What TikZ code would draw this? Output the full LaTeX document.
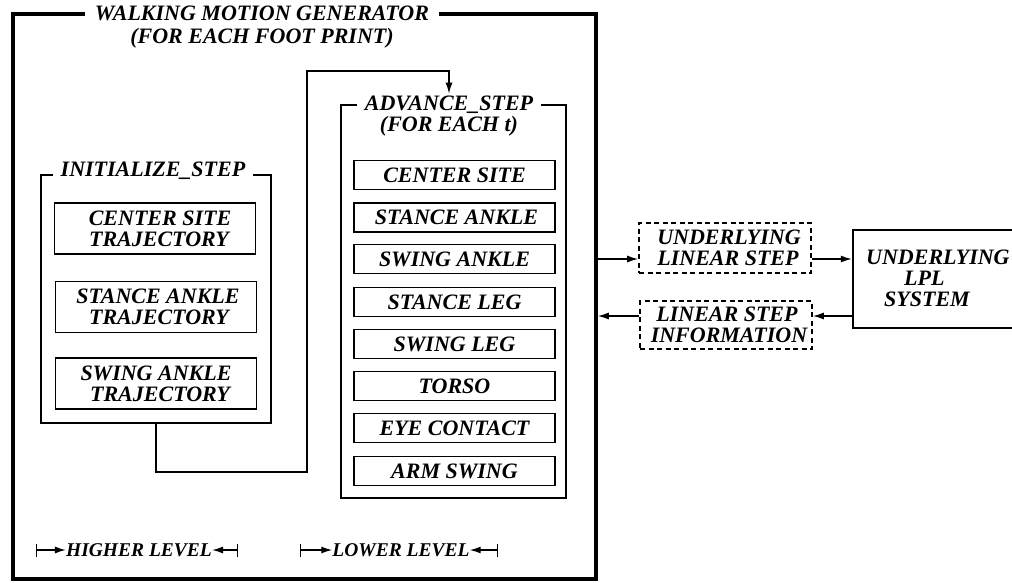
\documentclass[tikz,border=0pt]{standalone}
\usepackage{fontspec}
\setmainfont{Liberation Serif}
\usetikzlibrary{arrows.meta,calc}
\tikzset{
  txt/.style={font=\fontsize{22}{21}\selectfont\bfseries\itshape, align=center, inner sep=0pt},
  lvl/.style={font=\fontsize{19.5}{21}\selectfont\bfseries\itshape, inner sep=0pt},
  outerbox/.style={draw, line width=3.5pt, inner sep=0pt},
  groupbox/.style={draw, line width=2.4pt, inner sep=0pt},
  itembox/.style={draw, line width=1.6pt, inner sep=0pt, txt, minimum width=201pt},
  dashbox/.style={draw, dash pattern=on 5pt off 3.5pt, line width=1.6pt, inner sep=0pt, txt, minimum width=172pt},
  ttl/.style={txt, fill=white, inner xsep=8pt, inner ysep=2pt},
  conn/.style={line width=1.4pt},
  tip/.style={-{Latex[length=11pt,width=7pt]}},
  dim/.style={line width=1.4pt, {Bar[width=13pt]}-{Latex[length=11pt,width=7pt]}}
}
\begin{document}
\begin{tikzpicture}[x=1pt,y=-1pt]
\useasboundingbox (0,0) rectangle (1012,582);
\clip (0,0) rectangle (1012,582);
% outer box
\node[outerbox, minimum width=583pt, minimum height=565pt] (outer) at (304.5,296.5) {};
\node[ttl, inner xsep=10pt, font=\fontsize{22}{23}\selectfont\bfseries\itshape] (outtitle) at (262,27) {WALKING MOTION GENERATOR\\(FOR EACH FOOT PRINT)};
% initialize step
\node[groupbox, line width=2.2pt, minimum width=230pt, minimum height=248pt] (init) at (156,299) {};
\node[ttl] (inittitle) at (153,171) {INITIALIZE\_STEP};
\node[itembox, minimum height=51pt] (i1) at (155,228.5) {\hspace*{10pt}CENTER SITE\\\hspace*{8pt}TRAJECTORY};
\node[itembox, minimum height=51pt] (i2) at (156,307) {\hspace*{4pt}STANCE ANKLE\\\hspace*{6pt}TRAJECTORY};
\node[itembox, minimum height=51pt] (i3) at (156,383.5) {SWING ANKLE\\\hspace*{8pt}TRAJECTORY};
% advance step
\node[groupbox, minimum width=225pt, minimum height=393pt] (adv) at (453.5,301.5) {};
\node[ttl] (advtitle) at (449,116) {ADVANCE\_STEP\\(FOR EACH \textit{t})};
\node[itembox, minimum height=29pt] (a1) at (454.5,175) {CENTER SITE};
\node[itembox, minimum height=29pt] (a2) at (454.5,217.5) {\hspace*{4pt}STANCE ANKLE};
\node[itembox, minimum height=29pt] (a3) at (454.5,259) {SWING ANKLE};
\node[itembox, minimum height=29pt] (a4) at (454.5,302) {STANCE LEG};
\node[itembox, minimum height=29pt] (a5) at (454.5,344) {SWING LEG};
\node[itembox, minimum height=29pt] (a6) at (454.5,386) {TORSO};
\node[itembox, minimum height=29pt] (a7) at (454.5,428) {EYE CONTACT};
\node[itembox, minimum height=29pt] (a8) at (454.5,471) {ARM SWING};
% connector from initialize to advance
\draw[conn, tip] (init.south) -- ++(0,48) -| (307,71) -| (advtitle.north);
% right side
\node[dashbox, minimum height=50pt] (d1) at (725,248) {\hspace*{8pt}UNDERLYING\\\hspace*{6pt}LINEAR STEP};
\node[dashbox, minimum height=48pt] (d2) at (726,325) {\hspace*{2pt}LINEAR STEP\\\hspace*{6pt}INFORMATION};
\node[groupbox, minimum width=162pt, minimum height=98pt] (lpl) at (934,279) {};
\node[txt, align=left, anchor=north west] (lpltext) at (866,250) {UNDERLYING\\\hspace*{38pt}LPL\\\hspace*{18pt}SYSTEM};
\draw[conn, tip] (outer.east |- 0,259) -- (d1.west |- 0,259);
\draw[conn, tip] (d1.east |- 0,259) -- (lpl.west |- 0,259);
\draw[conn, tip] (lpl.west |- 0,316) -- (d2.east |- 0,316);
\draw[conn, tip] (d2.west |- 0,316) -- (outer.east |- 0,316);
% bottom level labels
\node[lvl] (hl) at (139,550) {HIGHER LEVEL};
\coordinate (hlL) at (36,550);
\coordinate (hlR) at (238,550);
\draw[dim] (hlL) -- (hl.west);
\draw[dim] (hlR) -- (hl.east);
\node[lvl] (ll) at (401,550) {LOWER LEVEL};
\coordinate (llL) at (300,550);
\coordinate (llR) at (498,550);
\draw[dim] (llL) -- (ll.west);
\draw[dim] (llR) -- (ll.east);
\end{tikzpicture}
\end{document}
